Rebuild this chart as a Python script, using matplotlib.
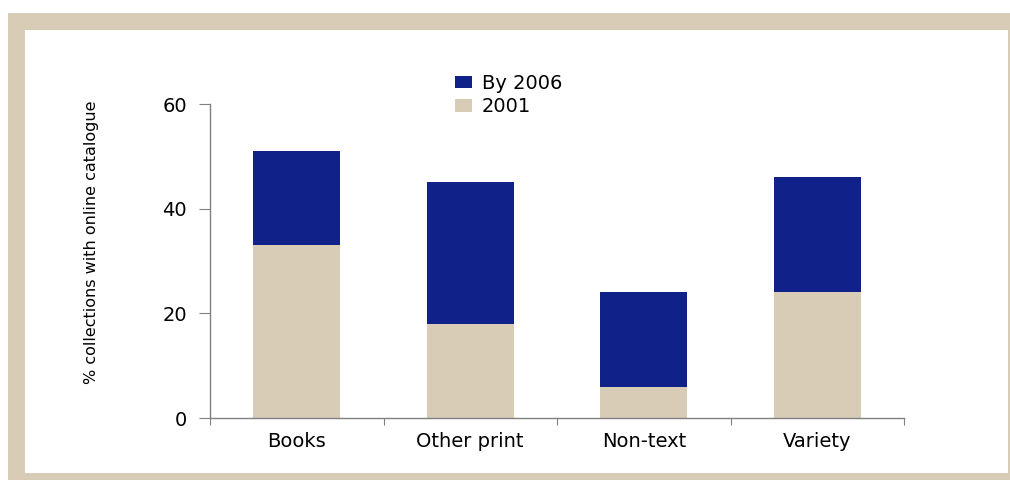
import numpy as np
import matplotlib.pyplot as plt
from matplotlib.patches import Rectangle

# datos
categorias = ['Books', 'Other print', 'Non-text', 'Variety']
valores_2001 = [33, 18, 6, 24]
valores_2006 = [51, 45, 24, 46]   # total acumulado hacia 2006
yticks = [0, 20, 40, 60]

azul = '#10228A'
beige = '#D8CCB6'
gris = '#808080'

fig = plt.figure(figsize=(10.1, 4.8), dpi=100)
W, H = 1010.0, 480.0

# marco beige con interior blanco
fig.patches.append(Rectangle((8 / W, 0), 1002 / W, 467 / H, transform=fig.transFigure,
                             facecolor=beige, edgecolor='none', zorder=-2))
fig.patches.append(Rectangle((25 / W, 7 / H), 983 / W, 443 / H, transform=fig.transFigure,
                             facecolor='white', edgecolor='none', zorder=-1))

ax = fig.add_axes([210 / W, 62 / H, 694 / W, 314 / H])
ax.patch.set_alpha(0)

x = np.arange(len(categorias))
extra = np.array(valores_2006) - np.array(valores_2001)
b1 = ax.bar(x, valores_2001, width=0.5, color=beige, zorder=2)
b2 = ax.bar(x, extra, width=0.5, bottom=valores_2001, color=azul, zorder=2)

ax.set_xlim(-0.5, len(categorias) - 0.5)
ax.set_ylim(0, 60)

# ejes
for s in ['top', 'right']:
    ax.spines[s].set_visible(False)
for s in ['left', 'bottom']:
    ax.spines[s].set_color(gris)
    ax.spines[s].set_linewidth(1.0)

ax.set_yticks(yticks)
ax.set_yticklabels([str(v) for v in yticks], fontsize=14)
ax.tick_params(axis='y', length=8, color=gris, pad=8.5)

ax.set_xticks(np.arange(len(categorias) + 1) - 0.5)
ax.set_xticklabels([])
ax.tick_params(axis='x', which='major', length=5, color=gris, direction='out')
ax.set_xticks(x, minor=True)
ax.set_xticklabels(categorias, minor=True, fontsize=14)
ax.tick_params(axis='x', which='minor', length=0, pad=10)

ax.set_ylabel('% collections with online catalogue', fontsize=11.5)
ax.yaxis.set_label_coords(-0.16, 0.56)

fig.legend([b2, b1], ['By 2006', '2001'], loc='upper left',
           bbox_to_anchor=(441 / W, 1 - 60 / H), frameon=False, fontsize=14,
           handlelength=0.9, handleheight=0.6, handletextpad=0.5,
           labelspacing=0.25, borderpad=0.2)

fig.savefig('out.png', dpi=100)
